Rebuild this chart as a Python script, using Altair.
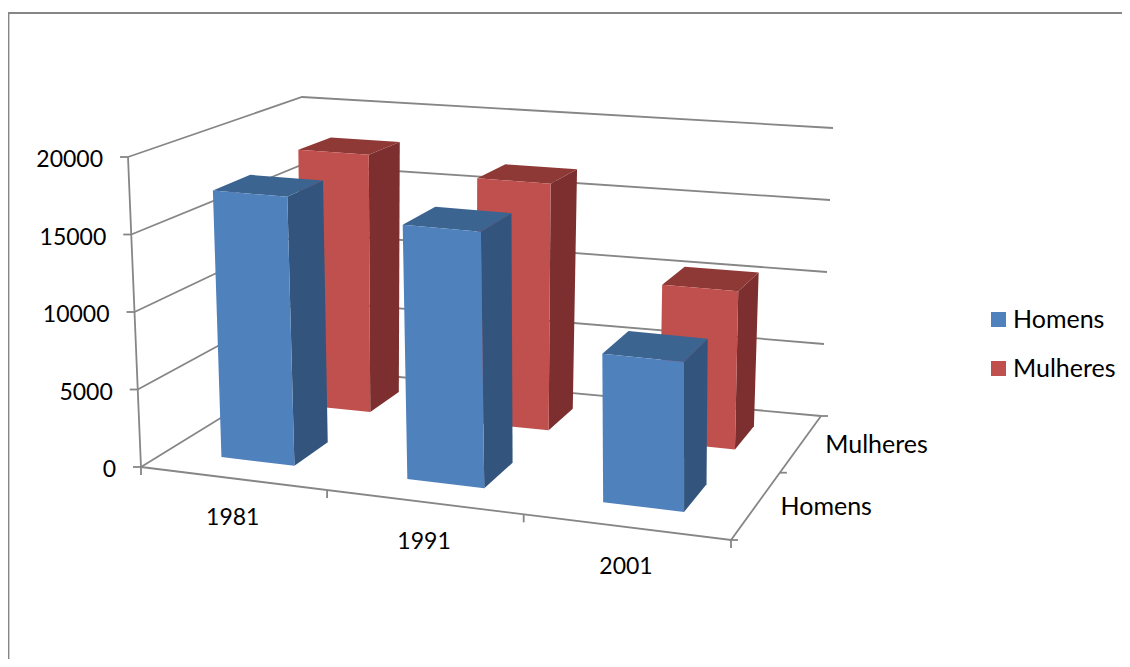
import altair as alt
import numpy as np
import pandas as pd

# ---- chart values
years = ["1981", "1991", "2001"]
series = ["Homens", "Mulheres"]
homens = [17400, 16250, 9300]
mulheres = [17800, 16700, 10500]
value_ticks = [0, 5000, 10000, 15000, 20000]
value_labels = ["0", "5000", "10000", "15000", "20000"]

# ---- style
blue = ["#4f81bd", "#33547d", "#3c6490"]
red = ["#c0504d", "#7c2f2e", "#8f3937"]
axis_gray = "#868686"
FONT = "Lato"
FS = 23
FS_WORD = 25
PLOT_W, PLOT_H = 1114, 651

# ---- 3D box of the plot (page pixels): floor corners and wall verticals
floor = {"fl": (141, 467), "fr": (731, 540), "bl": (302, 368), "br": (821, 416)}
lift = {"fl": (-13, -310), "fr": (-1, -330), "bl": (0, -271), "br": (12, -288)}
bar_width = 0.133
bar_depth = 0.21
depth_centers = [0.25, 0.75]
perspective_warp = 0.069


def homography(fl, fr, br, bl):
    src = [(0, 0), (1, 0), (1, 1), (0, 1)]
    dst = [fl, fr, br, bl]
    A, b = [], []
    for (u, v), (x, y) in zip(src, dst):
        A.append([u, v, 1, 0, 0, 0, -u * x, -v * x]); b.append(x)
        A.append([0, 0, 0, u, v, 1, -u * y, -v * y]); b.append(y)
    h = np.linalg.solve(np.array(A, float), np.array(b, float))
    return np.append(h, 1).reshape(3, 3)


H = homography(floor["fl"], floor["fr"], floor["br"], floor["bl"])


def project(u, v, val=0.0):
    u = u + perspective_warp * u * (1 - u)
    p = H @ np.array([u, v, 1.0])
    x, y = p[0] / p[2], p[1] / p[2]
    k = val / 20000.0
    lx = (1-u)*(1-v)*lift["fl"][0] + u*(1-v)*lift["fr"][0] + (1-u)*v*lift["bl"][0] + u*v*lift["br"][0]
    ly = (1-u)*(1-v)*lift["fl"][1] + u*(1-v)*lift["fr"][1] + (1-u)*v*lift["bl"][1] + u*v*lift["br"][1]
    return float(x + k * lx), float(y + k * ly)


def seg_rows(pts, key):
    return [{"x": p[0], "y": p[1], "i": i, "key": key} for i, p in enumerate(pts)]


# ---- bars as faces
def faces(values, s_idx, shades, name):
    front, other = [], []
    vc = depth_centers[s_idx]
    v0, v1 = vc - bar_depth / 2, vc + bar_depth / 2
    for c, val in enumerate(values):
        uc = (c + 0.5) / 3
        u0, u1 = uc - bar_width / 2, uc + bar_width / 2
        f = [project(u0, v0, 0), project(u1, v0, 0), project(u1, v0, val), project(u0, v0, val)]
        side = [project(u1, v0, 0), project(u1, v1, 0), project(u1, v1, val), project(u1, v0, val)]
        top = [project(u0, v0, val), project(u1, v0, val), project(u1, v1, val), project(u0, v1, val)]
        for r in seg_rows(f, f"{name}{c}front"):
            r["series"] = name
            front.append(r)
        for r in seg_rows(side, f"{name}{c}side"):
            r["shade"] = shades[1]
            other.append(r)
        for r in seg_rows(top, f"{name}{c}top"):
            r["shade"] = shades[2]
            other.append(r)
    return pd.DataFrame(front), pd.DataFrame(other)


# ---- scales are page pixels
X = alt.X("x:Q", scale=alt.Scale(domain=[8, 8 + PLOT_W]), axis=None)
Y = alt.Y("y:Q", scale=alt.Scale(domain=[8 + PLOT_H, 8]), axis=None)

# ---- frame, walls, floor, ticks
lines = []
frame_pts = [(8.5, 8 + PLOT_H), (8.5, 13), (8 + PLOT_W, 13)]
lines += seg_rows(frame_pts, "frame")
for t in value_ticks:
    lines += seg_rows([project(0, 0, t), project(0, 1, t), project(1, 1, t)], f"grid{t}")
    x0, y0 = project(0, 0, t)
    lines += seg_rows([(x0 - 8, y0), (x0, y0)], f"vt{t}")
lines += seg_rows([project(0, 0, 0), project(0, 0, 20000)], "vaxis")
lines += seg_rows([project(0, 0, 0), project(1, 0, 0), project(1, 1, 0)], "floor")
for k in range(4):
    px, py = project(k / 3, 0, 0)
    lines += seg_rows([(px, py), (px, py + 8)], f"ct{k}")
for k in [0, 0.5, 1]:
    px, py = project(1, k, 0)
    lines += seg_rows([(px, py), (px + 7, py)], f"st{k}")
lines_df = pd.DataFrame(lines)

grid = alt.Chart(lines_df).mark_line(color=axis_gray, strokeWidth=1.8).encode(
    x=X, y=Y, detail="key:N", order="i:Q")

color_scale = alt.Scale(domain=series, range=[blue[0], red[0]])
legend = alt.Legend(
    title=None, orient="none", legendX=978, legendY=299,
    symbolType="square", symbolSize=225, symbolStrokeWidth=0,
    labelFont=FONT, labelFontSize=FS_WORD, labelColor="#000000",
    rowPadding=23, labelOffset=2, symbolOffset=0)


def bar_layers(values, s_idx, shades, name):
    front_df, other_df = faces(values, s_idx, shades, name)
    other = alt.Chart(other_df).mark_line(filled=True).encode(
        x=X, y=Y, detail="key:N", order="i:Q",
        color=alt.Color("shade:N", scale=None))
    front = alt.Chart(front_df).mark_line(filled=True).encode(
        x=X, y=Y, detail="key:N", order="i:Q",
        color=alt.Color("series:N", scale=color_scale, legend=legend))
    return [other, front]


# ---- text
text_rows = []
for t, lab in zip(value_ticks, value_labels):
    px, py = project(0, 0, t)
    text_rows.append({"x": px - 25, "y": py + 3, "t": lab, "a": "right"})
for c, lab in enumerate(years):
    px, py = project((c + 0.5) / 3, 0, 0)
    text_rows.append({"x": px, "y": py + 40, "t": lab, "a": "center"})
for s, lab in enumerate(series):
    px, py = project(1, depth_centers[s], 0)
    text_rows.append({"x": px + 24, "y": py + 2, "t": lab, "a": "left"})
text_df = pd.DataFrame(text_rows)


def text_layer(a, fs):
    return alt.Chart(text_df[text_df.a == a]).mark_text(
        font=FONT, fontSize=fs, color="#000000", align=a, baseline="middle"
    ).encode(x=X, y=Y, text="t:N")


layers = [grid]
layers += bar_layers(mulheres, 1, red, "Mulheres")
layers += bar_layers(homens, 0, blue, "Homens")
layers += [text_layer("right", FS), text_layer("center", FS), text_layer("left", FS_WORD)]

chart = alt.layer(*layers).properties(
    width=PLOT_W, height=PLOT_H, padding=0, autosize=alt.AutoSizeParams(type="none"),
    background="#ffffff",
).configure_view(stroke=None)

chart.save("out.html", embed_options={"renderer": "svg", "actions": False})
